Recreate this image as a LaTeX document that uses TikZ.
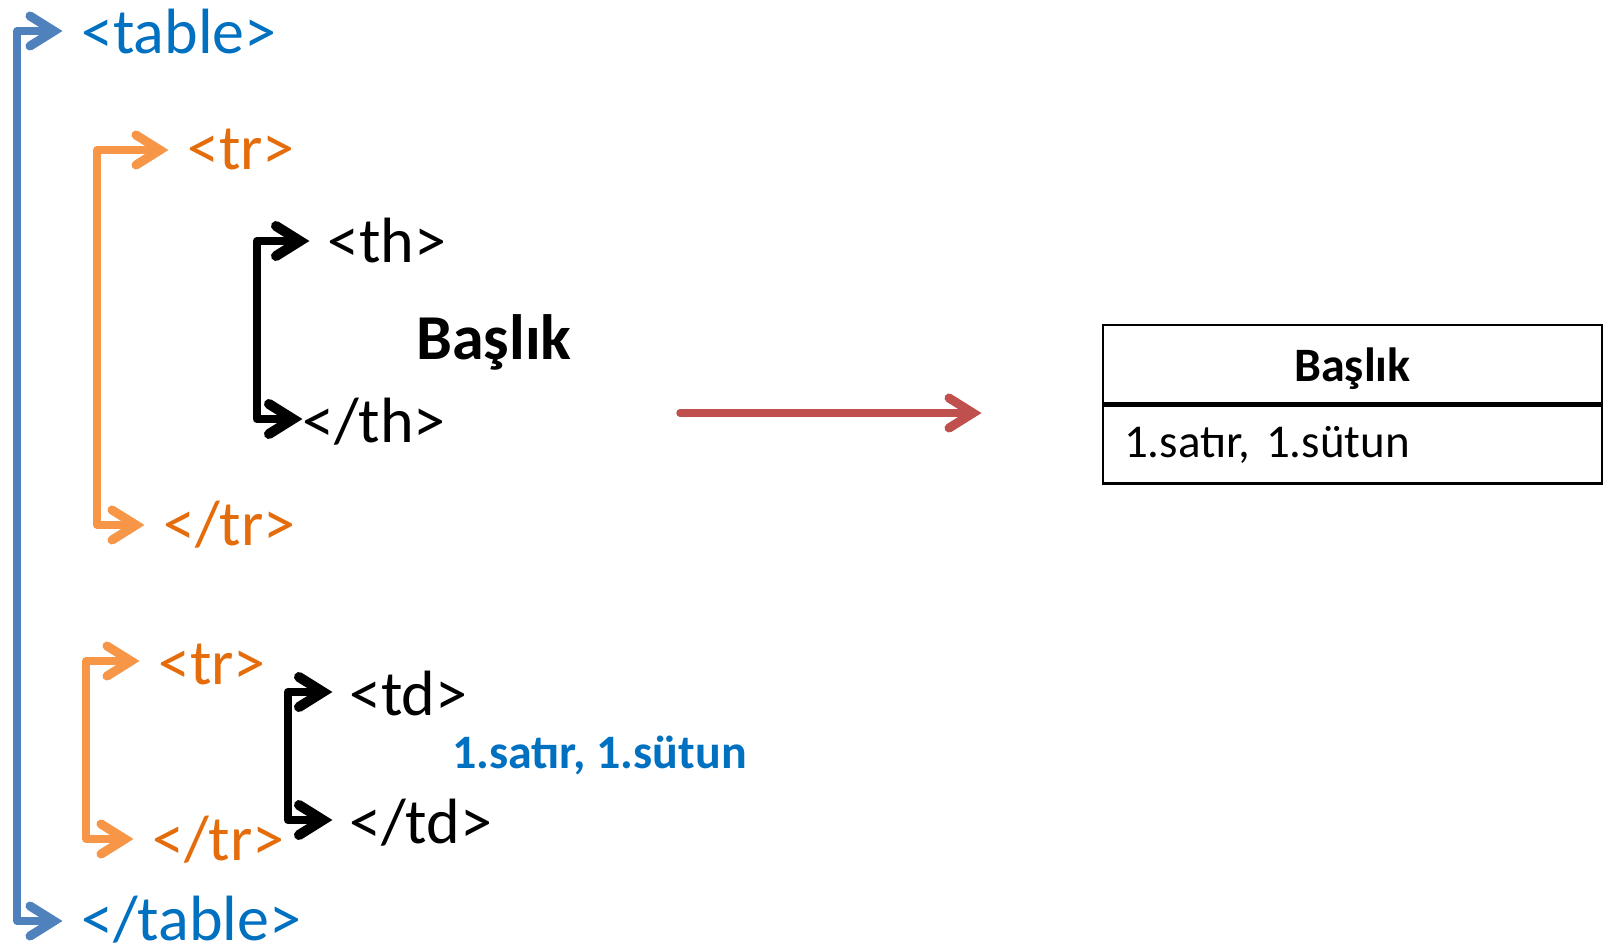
\documentclass[tikz,border=0pt]{standalone}
\usepackage{fontspec}
\setmainfont{Carlito}
\definecolor{tblue}{HTML}{0070C0}
\definecolor{ablue}{HTML}{4F81BD}
\definecolor{torange}{HTML}{E46C0A}
\definecolor{aorange}{HTML}{F79646}
\definecolor{ared}{HTML}{C0504D}
\tikzset{
  tag/.style={inner sep=0pt, anchor=west, text height=46pt, text depth=0pt, font=\fontsize{64}{70}\selectfont},
  shadowed/.style={preaction={draw=black!45, draw opacity=0.4, transform canvas={xshift=2.5pt,yshift=-3.5pt}}},
  tipR/.pic={\draw[shadowed, line width=#1, line cap=round, line join=miter, miter limit=10] (-24pt,-15pt) -- (0pt,0pt) -- (-24pt,15pt);},
  bracket/.style={line join=round, line cap=round, shadowed},
  cell/.style={draw, line width=2.5pt, minimum width=499pt, minimum height=78pt, font=\fontsize{47}{52}\selectfont},
}
\begin{document}
\begin{tikzpicture}[x=1pt,y=-1pt]
\useasboundingbox[fill=white] (0,0) rectangle (1604,947);
% text nodes
\node[tag, text=tblue] (ttable) at (81,31) {<table>};
\node[tag, text=tblue] (ctable) at (81,917) {</table>};
\node[tag, text=torange] (tr1) at (187,147) {<tr>};
\node[tag, text=torange] (ctr1) at (163,522) {</tr>};
\node[tag] (th) at (327,239) {<th>};
\node[tag] (cth) at (302,419) {</th>};
\node[tag, font=\fontsize{64}{70}\selectfont\bfseries] (bas) at (416,336) {Başlık};
\node[tag, text=torange] (tr2) at (158,661) {<tr>};
\node[tag, text=torange] (ctr2) at (152,837) {</tr>};
\node[tag] (td) at (349,692) {<td>};
\node[tag] (ctd) at (349,820) {</td>};
\node[tag, text=tblue, text height=34pt, font=\fontsize{48}{52}\selectfont\bfseries] (val) at (452,751) {1.satır, 1.sütun};
% arrow meeting points
\coordinate (a1) at ([xshift=-27pt]ttable.west);
\coordinate (a2) at ([xshift=-27pt,yshift=-4pt]ctable.west);
\coordinate (b1) at ([xshift=-27pt,yshift=-3pt]tr1.west);
\coordinate (b2) at ([xshift=-27pt,yshift=-3pt]ctr1.west);
\coordinate (c1) at ([xshift=-27pt,yshift=-2pt]th.west);
\coordinate (c2) at ([xshift=-9pt]cth.west);
\coordinate (d1) at ([xshift=-27pt]tr2.west);
\coordinate (d2) at ([xshift=-27pt,yshift=-2pt]ctr2.west);
\coordinate (e1) at ([xshift=-26pt]td.west);
\coordinate (e2) at ([xshift=-26pt]ctd.west);
% brackets
\draw[bracket, ablue, line width=7.5pt] (a1) -- (17,31) -- (17,921) -- (a2);
\pic[ablue] at (a1) {tipR=9pt}; \pic[ablue] at (a2) {tipR=9pt};
\draw[bracket, aorange, line width=7.5pt] (b1) -- (97,150) -- (97,525) -- (b2);
\pic[aorange] at (b1) {tipR=9pt}; \pic[aorange] at (b2) {tipR=9pt};
\draw[bracket, aorange, line width=7.5pt] (d1) -- (86,661) -- (86,839) -- (d2);
\pic[aorange] at (d1) {tipR=9pt}; \pic[aorange] at (d2) {tipR=9pt};
\draw[bracket, black, line width=8.5pt] (c1) -- (257,241) -- (257,419) -- (c2);
\pic[black] at (c1) {tipR=10pt}; \pic[black] at (c2) {tipR=10pt};
\draw[bracket, black, line width=8.5pt] (e1) -- (288,692) -- (288,820) -- (e2);
\pic[black] at (e1) {tipR=10pt}; \pic[black] at (e2) {tipR=10pt};
% result table
\node[cell, text height=34pt, text depth=0pt, font=\fontsize{48}{52}\selectfont\bfseries] (hdr) at (1352.5,364) {Başlık};
\node[cell, anchor=north, text width=457pt, inner xsep=21pt, inner ysep=0pt, align=left] (row) at (hdr.south) {1.satır, 1.sütun};
% red arrow
\coordinate (rs) at (680,413);
\coordinate (re) at (973,413);
\draw[bracket, ared, line width=7.5pt] (rs) -- (re);
\pic[ared] at (re) {tipR=9pt};
\end{tikzpicture}
\end{document}
